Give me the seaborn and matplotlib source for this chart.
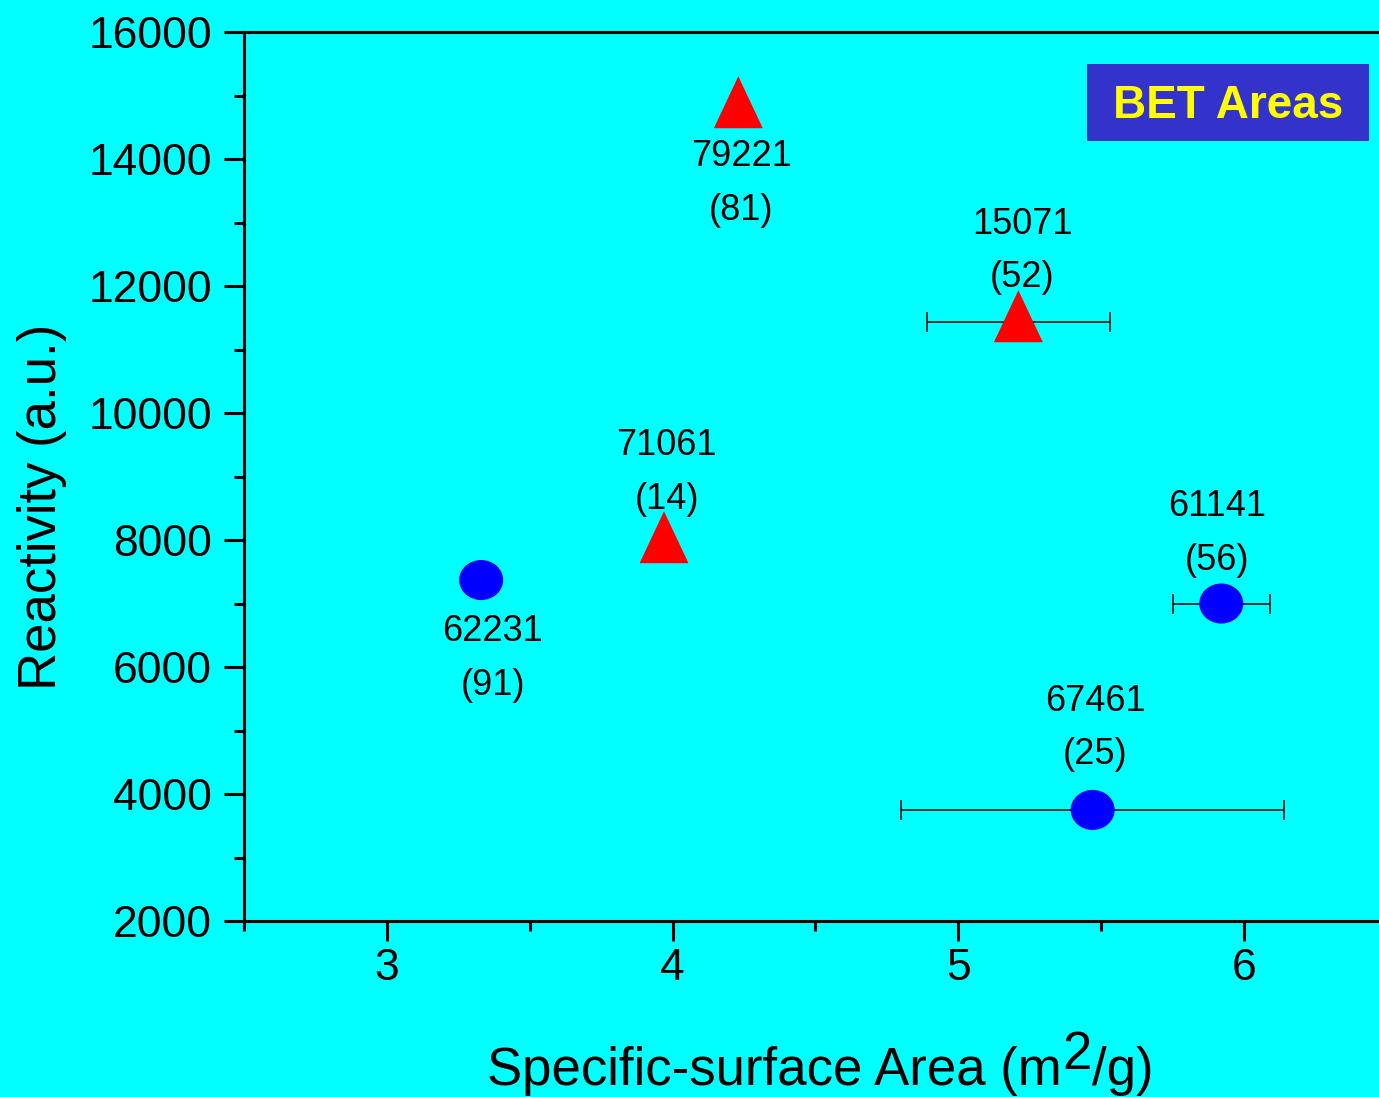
import numpy as np
import pandas as pd
import matplotlib
matplotlib.use("Agg")
import matplotlib.pyplot as plt
import seaborn as sns
from matplotlib.path import Path
from matplotlib.patches import Rectangle
from matplotlib.ticker import MultipleLocator
from matplotlib.transforms import Affine2D

# Sample data: specific-surface area (m2/g) vs reactivity (a.u.)
samples = ["62231", "71061", "79221", "15071", "61141", "67461"]
codes = ["(91)", "(14)", "(81)", "(52)", "(56)", "(25)"]
area = [3.33, 3.97, 4.23, 5.21, 5.92, 5.47]
reactivity = [7370, 7950, 14800, 11430, 7000, 3750]
area_err = [0.0, 0.0, 0.0, 0.32, 0.17, 0.67]
reactivity_err = [150, 100, 100, 150, 0, 0]
shape = ["circle", "triangle", "triangle", "triangle", "circle", "circle"]

xticks = [3, 4, 5, 6]
xtick_labels = ["3", "4", "5", "6"]
yticks = [2000, 4000, 6000, 8000, 10000, 12000, 14000, 16000]
ytick_labels = ["2000", "4000", "6000", "8000", "10000", "12000", "14000", "16000"]

# label offsets (points) for each sample annotation
label_dx = [8.5, 2, 2, 3, -3, 2]
label_dy = [-56.5, 50.9, -54.2, 51.6, 50.4, 59.3]

df = pd.DataFrame({"area": area, "reactivity": reactivity, "shape": shape})

BG = "#00FFFF"
sns.set_theme(style="ticks", rc={
    "axes.facecolor": BG,
    "figure.facecolor": BG,
    "axes.edgecolor": "black",
    "axes.linewidth": 2.2,
    "xtick.color": "black",
    "ytick.color": "black",
    "text.color": "black",
})
plt.rcParams["font.family"] = ["Liberation Sans", "DejaVu Sans"]

fig = plt.figure(figsize=(13.79, 10.97), dpi=100)
ax = fig.add_axes([0.1769, 0.1604, 0.8289, 0.8104])

# error bars (drawn beneath the markers)
x = np.array(area)
y = np.array(reactivity, dtype=float)
xe = np.array(area_err)
ye = np.array(reactivity_err, dtype=float)
mx = xe > 0
my = ye > 0
ax.errorbar(x[mx], y[mx], xerr=xe[mx], fmt="none", ecolor="black",
            elinewidth=1.1, capsize=7.2, capthick=1.1, zorder=2)
ax.errorbar(x[my], y[my], yerr=ye[my], fmt="none", ecolor="black",
            elinewidth=1.1, capsize=7.2, capthick=1.1, zorder=2)

# marker shapes: slightly flattened circle, triangle centred near its centroid
circle_path = Path.unit_circle().transformed(Affine2D().scale(1.0, 0.91))
tri_path = Path([(0, 1), (-0.766, -0.626), (0.766, -0.626), (0, 1)],
                [Path.MOVETO, Path.LINETO, Path.LINETO, Path.CLOSEPOLY])

sns.scatterplot(data=df, x="area", y="reactivity", hue="shape", style="shape",
                size="shape",
                palette={"circle": "#0000FF", "triangle": "#FF0000"},
                markers={"circle": circle_path, "triangle": tri_path},
                sizes={"circle": 1005, "triangle": 2116},
                edgecolor="none", linewidth=0, legend=False, ax=ax, zorder=3)

for xi, yi, s, c, dx, dy in zip(area, reactivity, samples, codes, label_dx, label_dy):
    ax.annotate(f"{s}\n{c}", xy=(xi, yi), xytext=(dx, dy),
                textcoords="offset points", ha="center", va="center",
                fontsize=26, linespacing=1.67, zorder=5)

ax.set_xlim(2.5, 6.5)
ax.set_ylim(2000, 16000)
ax.set_xticks(xticks)
ax.set_xticklabels(xtick_labels)
ax.set_yticks(yticks)
ax.set_yticklabels(ytick_labels)
ax.xaxis.set_minor_locator(MultipleLocator(0.5))
ax.yaxis.set_minor_locator(MultipleLocator(1000))
ax.tick_params(which="major", direction="out", length=14.4, width=2.2, labelsize=32)
ax.tick_params(which="minor", direction="out", length=7.5, width=2.2)
ax.tick_params(axis="y", which="major", pad=8.6)
ax.tick_params(axis="x", which="major", pad=5)
ax.spines["right"].set_visible(False)
ax.set_xlabel("")
ax.set_ylabel("")

# "BET Areas" tag
ax.add_patch(Rectangle((0.7375, 0.877), 0.2465, 0.087, transform=ax.transAxes,
                       facecolor="#3333CC", edgecolor="none", zorder=4))
ax.text(0.8609, 0.9173, "BET Areas", transform=ax.transAxes, ha="center",
        va="center", fontsize=33, fontweight="bold", color="#FFFF00", zorder=5)

# axis titles
fig.text(42 / 1379, 1 - 507 / 1097, "Reactivity (a.u.)", rotation=90,
         ha="center", va="center", fontsize=38)
t1 = fig.text(487 / 1379, 1 - 1085 / 1097, "Specific-surface Area (m",
              ha="left", va="baseline", fontsize=38)
t2 = ax.annotate("2", xy=(1, 0), xycoords=t1, xytext=(0.5, 11.5),
                 textcoords="offset points", ha="left", va="bottom",
                 fontsize=38, annotation_clip=False)
t3 = ax.annotate("/g)", xy=(1, 0), xycoords=t2, xytext=(0, -11.5),
                 textcoords="offset points", ha="left", va="bottom",
                 fontsize=38, annotation_clip=False)

fig.savefig("out.png", dpi=100, facecolor=BG)
